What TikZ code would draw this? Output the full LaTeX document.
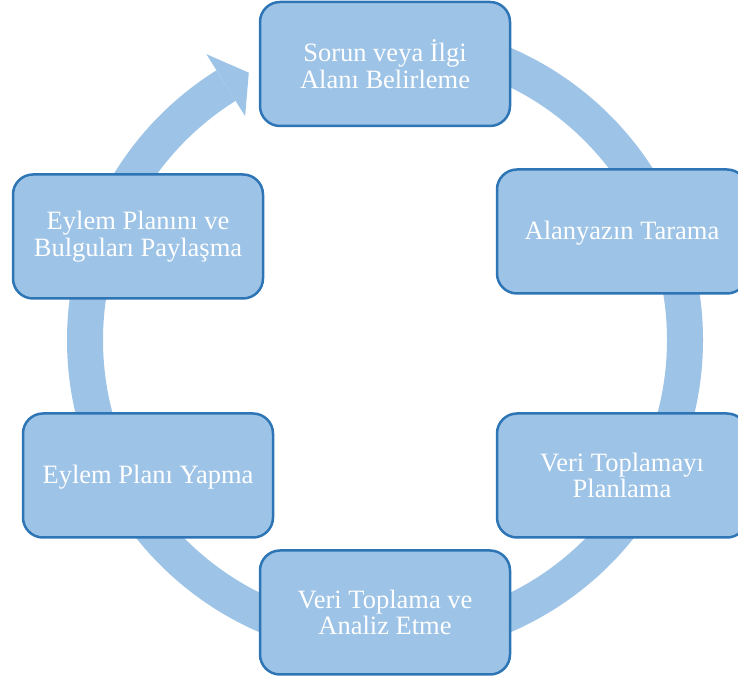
\documentclass[tikz,border=0pt]{standalone}
\usepackage{fontspec}
\setmainfont{Liberation Serif}
\usepackage{tikz}
\usetikzlibrary{calc}
\definecolor{ringblue}{RGB}{157,195,230}
\definecolor{edgeblue}{RGB}{46,117,182}

\tikzset{
    stage/.style={draw=edgeblue, line width=2.5pt, fill=ringblue, rounded corners=20pt,
        minimum width=250pt, minimum height=124pt, inner sep=0pt, align=center,
        text=white, font=\fontsize{26.5}{26.5}\selectfont},
    oneline/.style={text height=18pt, text depth=1pt},
    ring/.style={draw=ringblue, line width=36pt}
}

\begin{document}
\begin{tikzpicture}[x=1pt,y=1pt]
    \useasboundingbox (0,0) rectangle (738,679);

    % cycle ring with its arrow head
    \coordinate (mid) at (385,339);
    \draw[ring] (mid) ++(90:300) arc[start angle=90, end angle=-238, radius=300];
    \fill[ringblue] ($(mid)+(122:337)$) -- ($(mid)+(117:300)$) -- ($(mid)+(122:264)$) -- cycle;

    % the six stages
    \node[stage] (sorun) at (385,615) {Sorun veya İlgi\\Alanı Belirleme};
    \node[stage, oneline] (tarama) at (622,447.5) {Alanyazın Tarama};
    \node[stage] (plan) at (622,203.5) {Veri Toplamayı\\Planlama};
    \node[stage] (analiz) at (385,66.5) {Veri Toplama ve\\Analiz Etme};
    \node[stage, oneline] (eylem) at (148,203.5) {Eylem Planı Yapma};
    \node[stage] (paylas) at (138,442.5) {Eylem Planını ve\\Bulguları Paylaşma};
\end{tikzpicture}
\end{document}
